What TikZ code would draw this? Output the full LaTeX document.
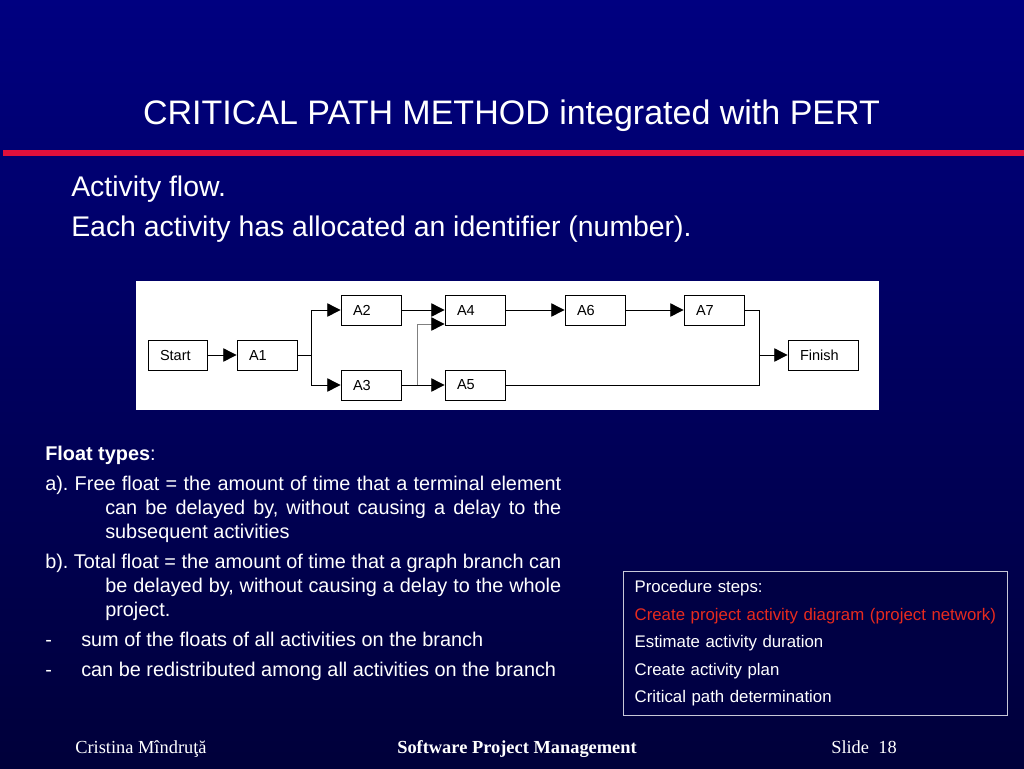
\documentclass[tikz,border=0pt]{standalone}
\usepackage{fontspec}
\setmainfont{Liberation Sans}
\newfontfamily\footfont{Liberation Serif}
\usepackage{xcolor}
\usepackage{tikz}
\usetikzlibrary{positioning,arrows.meta,calc}
\definecolor{SlideTop}{HTML}{000080}
\definecolor{SlideBottom}{HTML}{00003A}
\definecolor{RuleRed}{HTML}{E0103C}
\definecolor{StepRed}{HTML}{E82A1E}
\definecolor{FrameGray}{HTML}{C8C8D8}
\frenchspacing

\tikzset{
  actbox/.style={draw=black, fill=white, line width=0.6pt, minimum height=22.5pt,
    text width=#1, inner xsep=9pt, align=left, text=black,
    font=\fontsize{10.9pt}{12pt}\selectfont},
  actbox/.default=27pt,
  flow/.style={line width=0.7pt, -{Triangle[length=10pt,width=10pt,color=black]}},
  wire/.style={line width=0.7pt},
  slidetext/.style={inner sep=0pt, text=white}
}

\begin{document}
\begin{tikzpicture}[x=0.75pt, y=-0.75pt]
  \shade[top color=SlideTop, bottom color=SlideBottom] (0,0) rectangle (1024,768);
  \useasboundingbox (0,0) rectangle (1024,768);
  \fill[RuleRed] (3,150) rectangle (1024,156);

  \node[slidetext, anchor=base, font=\fontsize{25.5pt}{30pt}\selectfont] (title)
    at (511.5,124) {CRITICAL PATH METHOD integrated with PERT};
  \node[slidetext, anchor=base west, font=\fontsize{21.3pt}{26pt}\selectfont] (flowline)
    at (71,196) {Activity flow.};
  \node[slidetext, anchor=base west, font=\fontsize{21.3pt}{26pt}\selectfont] (idline)
    at (71,236) {Each activity has allocated an identifier (number).};

  \fill[white] (136,281) rectangle (879,410);
  \node[actbox=26.25pt] (start) at (177.5,355) {Start};
  \node[actbox] (a1) at (267,355) {A1};
  \node[actbox] (a2) at (371,310) {A2};
  \node[actbox] (a3) at (371,385) {A3};
  \node[actbox] (a4) at (475,310) {A4};
  \node[actbox] (a5) at (475,385) {A5};
  \node[actbox] (a6) at (595,310) {A6};
  \node[actbox] (a7) at (714,310) {A7};
  \node[actbox=34.5pt] (finish) at (823,355) {Finish};
  \coordinate (splitA) at (311,355);
  \coordinate (splitB) at (417,385);
  \coordinate (merge) at (759,355);

  \draw[flow] (start) -- (a1);
  \draw[wire] (a1.east) -- (splitA);
  \draw[flow] (splitA) |- (a2.west);
  \draw[flow] (splitA) |- (a3.west);
  \draw[flow] (a2) -- (a4);
  \draw[flow] (a3) -- (a5);
  \draw[flow, draw=gray] (splitB) |- ([yshift=-10.5pt]a4.west);
  \draw[flow] (a4) -- (a6);
  \draw[flow] (a6) -- (a7);
  \draw[wire] (a7.east) -| (merge);
  \draw[wire] (a5.east) -| (merge);
  \draw[flow] (merge) -- (finish);

  \node[slidetext, anchor=north west, text width=387pt, align=justify,
    font=\fontsize{14.9pt}{18pt}\selectfont] (floats) at (45,446) {%
    \parindent=0pt\parskip=4.5pt
    \textbf{Float types}:\par
    \hangindent=45pt\hangafter=1 a). Free float = the amount of time that a terminal element\linebreak
    can be delayed by, without causing a delay to the\linebreak subsequent activities\par
    \hangindent=45pt\hangafter=1 b). Total float = the amount of time that a graph branch can\linebreak
    be delayed by, without causing a delay to the whole\linebreak project.\par
    \makebox[27pt][l]{-}sum of the floats of all activities on the branch\par
    \makebox[27pt][l]{-}can be redistributed among all activities on the branch\par};

  \node[anchor=north west, draw=FrameGray, line width=1pt, fill=SlideBottom!85!SlideTop,
    text width=271.5pt, inner xsep=8.25pt, inner ysep=6.75pt, align=left, text=white,
    font=\fontsize{12.6pt}{20.6pt}\selectfont] (steps) at (623,571) {%
    Procedure steps:\\
    \mbox{\textcolor{StepRed}{Create project activity diagram (project network)}}\\
    Estimate activity duration\\
    Create activity plan\\
    Critical path determination};

  \node[slidetext, anchor=base west, font=\footfont\fontsize{13.8pt}{16pt}\selectfont] (author)
    at (75,753) {Cristina Mîndruţă};
  \node[slidetext, anchor=base, font=\footfont\bfseries\fontsize{13.8pt}{16pt}\selectfont] (course)
    at (517,753) {Software Project Management};
  \node[slidetext, anchor=base west, font=\footfont\fontsize{13.8pt}{16pt}\selectfont] (slideno)
    at (831,753) {Slide\ \ 18};
\end{tikzpicture}
\end{document}
